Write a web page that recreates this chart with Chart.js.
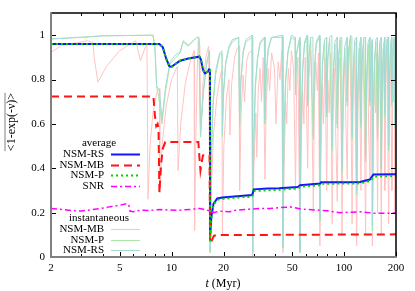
<!DOCTYPE html>
<html><head><meta charset="utf-8">
<script src="https://cdn.jsdelivr.net/npm/chart.js@4.4.0/dist/chart.umd.min.js"></script>
<style>html,body{margin:0;padding:0;background:#fff;}#wrap{width:415px;height:291px;}</style>
</head><body><div id="wrap"><canvas id="c" width="415" height="291"></canvas></div>
<script>
// ---- tick labels ----
const xTickLabels = [2, 5, 10, 20, 50, 100, 200];
const xMinorTicks = [3, 4, 6, 7, 8, 9, 30, 40, 60, 70, 80, 90];
const yTickLabels = [0, 0.2, 0.4, 0.6, 0.8, 1];

// ---- series: [t (Myr), value] ----
const mbInst = [[2,0.923],[2.3,0.953],[2.8,0.965],[3.26,0.975],[3.5,0.968],[3.56,0.90],[3.74,0.788],[4.2,0.86],[5.0,0.93],[6.0,0.968],
[6.2,0.975],[6.6,0.885],[7.0,0.94],[7.2,0.96],[7.3,0.26],[7.5,0.5],[7.8,0.65],[8.2,0.74],[8.5,0.76],[8.55,0.29],
[8.8,0.5],[9.3,0.68],[10,0.8],[10.8,0.86],[10.9,0.39],[11.3,0.6],[12,0.78],[12.8,0.88],[13.5,0.93],[13.6,0.12],
[13.8,0.5],[14.1,0.85],[14.3,0.99],[14.6,0.95],[14.75,0.55],[15.2,0.78],[15.8,0.9],[16.4,0.95],[16.7,0.02],[17.0,0.3],
[17.5,0.55],[18.3,0.72],[19.3,0.83],[19.6,0.84],[19.7,0.1],[20.1,0.5],[20.8,0.72],[21.5,0.8],[21.8,0.55],[22.3,0.78],
[23.2,0.9],[24,0.94],[24.6,0.95],[24.8,0.3],[25.3,0.65],[26,0.82],[26.5,0.7],[27.2,0.88],[28,0.92],[29.3,0.93],
[29.5,0.0],[30,0.4],[30.8,0.65],[31.2,0.45],[31.8,0.75],[32.6,0.85],[33.2,0.7],[34,0.9],[34.8,0.35],[35.4,0.7],
[36.3,0.85],[37,0.75],[38,0.92],[39.5,0.85],[40.3,0.6],[41.5,0.88],[42.5,0.8],[43.5,0.93],[44.2,0.02],[44.9,0.4],
[45.8,0.7],[46.5,0.6],[47.5,0.85],[48.5,0.75],[49.5,0.93],[51,0.85],[52.3,0.3],[53,0.75],[54,0.9],[55.5,0.02],
[56.3,0.45],[57.5,0.75],[58.5,0.6],[59.5,0.9],[60.5,0.7],[61.5,0.4],[62.5,0.8],[64,0.93],[65,0.7],[66.3,0.2],
[67.3,0.7],[68.5,0.88],[70,0.75],[71,0.92],[72.4,0.05],[73.3,0.4],[75,0.78],[76,0.6],[77.5,0.9],[79.3,0.3],
[80.5,0.8],[82,0.65],[83.5,0.92],[85.3,0.15],[86.5,0.7],[88,0.85],[89.5,0.55],[91.3,0.25],[92.8,0.8],[94.5,0.9],
[96,0.65],[97.3,0.1],[99,0.7],[101,0.88],[102.5,0.6],[104.3,0.35],[106,0.85],[108,0.95],[109.5,0.7],[111.3,0.15],
[113,0.75],[115,0.9],[116.5,0.55],[118.3,0.05],[120,0.6],[122,0.88],[123.5,0.7],[125.3,0.3],[127,0.8],[129,0.93],
[131,0.6],[133.3,0.1],[135,0.7],[137,0.9],[139,0.55],[141.3,0.35],[143.5,0.82],[145.5,0.9],[146,0.05],[147.5,0.5],
[150,0.85],[152,0.65],[154,0.92],[156.3,0.2],[158.5,0.75],[160.5,0.9],[162.5,0.6],[164.3,0.1],[166.5,0.7],[169,0.9],
[171,0.7],[172.3,0.3],[175,0.85],[177,0.95],[179,0.6],[181.3,0.15],[183.5,0.75],[186,0.9],[188,0.55],[189.3,0.3],
[192,0.85],[194,0.7],[195.5,0.93],[197.3,0.2],[200,0.75]];

const pInst = [[2,0.983],[4,0.997],[7.8,1.0],[8.0,0.95],[8.2,0.76],[8.4,0.73],[8.8,0.6],[9.2,0.74],[9.8,0.87],[11.2,0.92],
[11.7,0.97],[12.5,0.95],[14.0,0.99],[14.4,0.99],[14.7,0.54],[15.3,0.74],[16.0,0.87],[16.6,0.93],[16.75,0.02],[17.0,0.42],
[17.4,0.68],[18.0,0.82],[19.0,0.91],[19.6,0.92],[19.7,0.54],[20.0,0.73],[20.6,0.87],[21.5,0.94],[22.5,0.97],[24.5,0.99],
[24.8,0.58],[25.2,0.78],[26,0.92],[27,0.97],[29.3,0.99],[29.5,0.02],[29.9,0.48],[30.6,0.76],[31.5,0.89],[32.6,0.96],
[34.5,0.99],[34.8,0.6],[35.3,0.8],[36.3,0.93],[38,0.99],[43.8,0.99],[44.2,0.04],[44.8,0.53],[45.8,0.78],[47.3,0.92],
[49.5,0.99],[52,0.98],[52.3,0.73],[53,0.91],[55.2,0.98],[55.5,0.02],[56.2,0.53],[57.5,0.83],[59,0.96],[61,0.99],
[61.5,0.68],[62.5,0.89],[64,0.98],[66.3,0.53],[67.3,0.84],[69,0.96],[72,0.99],[72.4,0.16],[73.3,0.58],[75,0.87],
[77,0.97],[79.3,0.63],[80.5,0.89],[82.5,0.98],[85.3,0.48],[86.5,0.81],[88.5,0.96],[91.3,0.58],[92.8,0.89],[95,0.98],
[97.3,0.38],[99,0.79],[101,0.94],[104.3,0.68],[106,0.92],[109,0.99],[111.3,0.53],[113,0.84],[115.5,0.97],[118.3,0.28],
[120,0.74],[122.5,0.94],[125.3,0.58],[127,0.87],[130,0.98],[133.3,0.43],[135,0.79],[138,0.96],[141.3,0.68],[143.5,0.89],
[145.5,0.97],[146,0.12],[147.5,0.58],[150,0.87],[153,0.97],[156.3,0.53],[158.5,0.84],[161,0.96],[164.3,0.38],[166.5,0.77],
[169,0.94],[172.3,0.63],[175,0.89],[178,0.98],[181.3,0.48],[183.5,0.81],[186.5,0.96],[189.3,0.68],[192,0.92],[195,0.98],
[197.3,0.58],[200,0.89]];

const rsInst = [[2,0.983],[3,0.99],[4,0.997],[7.8,1.0],[8.0,0.95],[8.2,0.77],[8.5,0.75],[8.8,0.62],[9.2,0.76],[9.8,0.88],
[10.5,0.91],[11.2,0.925],[11.7,0.975],[12.5,0.955],[13.3,0.975],[14.0,0.99],[14.4,0.99],[14.7,0.56],[15.3,0.75],[16.0,0.88],
[16.6,0.93],[16.75,0.03],[17.0,0.45],[17.4,0.7],[18.0,0.84],[19.0,0.92],[19.6,0.93],[19.7,0.56],[20.0,0.75],[20.6,0.88],
[21.5,0.95],[22.5,0.98],[24.5,0.99],[24.8,0.6],[25.2,0.8],[26,0.93],[27,0.98],[29.3,1.0],[29.5,0.02],[29.9,0.5],
[30.6,0.78],[31.5,0.9],[32.6,0.97],[34.5,0.99],[34.8,0.62],[35.3,0.82],[36.3,0.94],[38,0.99],[43.8,1.0],[44.2,0.05],
[44.8,0.55],[45.8,0.8],[47.3,0.93],[49.5,1.0],[52,0.99],[52.3,0.75],[53,0.92],[55.2,0.99],[55.5,0.03],[56.2,0.55],
[57.5,0.85],[59,0.97],[61,1.0],[61.5,0.7],[62.5,0.9],[64,0.99],[66,0.99],[66.3,0.55],[67.3,0.85],[69,0.97],
[72,1.0],[72.4,0.18],[73.3,0.6],[75,0.88],[77,0.98],[79,0.99],[79.3,0.65],[80.5,0.9],[82.5,0.99],[85,1.0],
[85.3,0.5],[86.5,0.82],[88.5,0.97],[91,0.99],[91.3,0.6],[92.8,0.9],[95,0.99],[97,0.99],[97.3,0.4],[99,0.8],
[101,0.95],[104,0.99],[104.3,0.7],[106,0.93],[109,1.0],[111,0.99],[111.3,0.55],[113,0.85],[115.5,0.98],[118,0.99],
[118.3,0.3],[120,0.75],[122.5,0.95],[125,0.99],[125.3,0.6],[127,0.88],[130,0.99],[133,0.99],[133.3,0.45],[135,0.8],
[138,0.97],[141,0.99],[141.3,0.7],[143.5,0.9],[145.5,0.98],[146,0.14],[147.5,0.6],[150,0.88],[153,0.98],[156,0.99],
[156.3,0.55],[158.5,0.85],[161,0.97],[164,0.99],[164.3,0.4],[166.5,0.78],[169,0.95],[172,0.99],[172.3,0.65],[175,0.9],
[178,0.99],[181,0.99],[181.3,0.5],[183.5,0.82],[186.5,0.97],[189,0.99],[189.3,0.7],[192,0.93],[195,0.99],[197,0.99],
[197.3,0.6],[200,0.9]];

const rsAvg = [[2,0.96],[8.5,0.96],[8.9,0.945],[9.3,0.895],[9.7,0.86],[10.0,0.857],[10.6,0.872],[11.2,0.885],[12.5,0.895],[14.5,0.903],
[14.8,0.89],[15.2,0.845],[15.6,0.828],[16.2,0.835],[16.5,0.845],[16.7,0.84],[16.72,0.09],[17.0,0.18],[17.5,0.24],[18.4,0.264],
[19.7,0.268],[25,0.275],[29.3,0.279],[30.0,0.305],[36,0.309],[42,0.31],[54,0.316],[55.6,0.324],[72.8,0.331],[73.5,0.337],
[100,0.337],[124,0.338],[130,0.343],[141,0.349],[148,0.372],[200,0.373]];

const mbAvg = [[2,0.724],[7.85,0.724],[8.0,0.64],[8.15,0.59],[8.3,0.6],[8.4,0.58],[8.5,0.29],[8.7,0.42],[8.9,0.49],[9.2,0.518],
[14.3,0.518],[14.5,0.45],[14.7,0.39],[14.9,0.42],[15.2,0.458],[16.6,0.46],[16.72,0.062],[17.0,0.07],[17.6,0.095],[18.2,0.099],
[50,0.1],[200,0.102]];

const pAvg = [[2,0.96],[8.5,0.96],[8.9,0.945],[9.3,0.895],[9.7,0.86],[10.0,0.857],[10.6,0.872],[11.2,0.885],[12.5,0.895],[14.5,0.903],
[14.8,0.89],[15.2,0.845],[15.6,0.828],[16.2,0.835],[16.5,0.845],[16.7,0.84],[16.72,0.07],[17.0,0.17],[17.5,0.235],[18.4,0.258],
[19.7,0.262],[25,0.269],[29.3,0.272],[30.3,0.298],[42,0.303],[54,0.309],[56,0.317],[73,0.324],[74,0.33],[124,0.332],
[141,0.342],[150,0.363],[200,0.365]];

const snr = [[2,0.219],[2.3,0.214],[2.6,0.21],[3.0,0.207],[3.4,0.213],[3.9,0.219],[4.5,0.228],[5.0,0.233],[5.5,0.241],[5.65,0.235],
[5.74,0.207],[6.0,0.204],[6.6,0.211],[7.5,0.21],[8.6,0.214],[9.5,0.212],[11.2,0.211],[13,0.215],[14.6,0.219],[16.7,0.208],
[17.5,0.2],[19,0.207],[21.8,0.204],[23,0.21],[28,0.215],[32.6,0.219],[37,0.219],[42,0.222],[49,0.226],[52,0.222],
[56,0.216],[73,0.211],[80,0.208],[95,0.2],[110,0.202],[124,0.204],[150,0.197],[200,0.198]];

const toXY = a => a.map(p => ({x: p[0], y: p[1]}));
const FONT = "'Liberation Serif', 'Times New Roman', serif";

const series = [
  {label:'NSM-MB inst', data: mbInst, color:'rgb(255,195,195)', w:1, dash:[], order:7},
  {label:'NSM-P inst', data: pInst, color:'rgb(170,230,170)', w:1, dash:[], order:6},
  {label:'NSM-RS inst', data: rsInst, color:'rgb(165,218,212)', w:1, dash:[], order:5},
  {label:'NSM-RS', data: rsAvg, color:'rgb(20,20,255)', w:2, dash:[], order:4},
  {label:'NSM-MB', data: mbAvg, color:'rgb(255,20,20)', w:2, dash:[8,5], order:3},
  {label:'NSM-P', data: pAvg, color:'rgb(0,210,0)', w:2, dash:[2,3], order:2},
  {label:'SNR', data: snr, color:'rgb(255,0,255)', w:1.5, dash:[6,3,2,3], order:1}
];

const framePlugin = {
  id: 'frame',
  afterDatasetsDraw(chart) {
    const {ctx, chartArea: {left, right, top, bottom}, scales: {x, y}} = chart;
    ctx.save();
    ctx.strokeStyle = '#000';
    ctx.lineWidth = 1;
    ctx.beginPath();
    xTickLabels.forEach(t => { const px = Math.round(x.getPixelForValue(t)) + 0.5;
      ctx.moveTo(px, bottom); ctx.lineTo(px, bottom - 5); ctx.moveTo(px, top); ctx.lineTo(px, top + 5); });
    xMinorTicks.forEach(t => { const px = Math.round(x.getPixelForValue(t)) + 0.5;
      ctx.moveTo(px, bottom); ctx.lineTo(px, bottom - 3); ctx.moveTo(px, top); ctx.lineTo(px, top + 3); });
    yTickLabels.forEach(v => { const py = Math.round(y.getPixelForValue(v)) + 0.5;
      ctx.moveTo(left, py); ctx.lineTo(left + 5, py); ctx.moveTo(right, py); ctx.lineTo(right - 5, py); });
    ctx.stroke();
    ctx.lineWidth = 1.5;
    ctx.beginPath();
    ctx.moveTo(left, top); ctx.lineTo(right, top); ctx.lineTo(right, bottom);
    ctx.stroke();
    ctx.strokeStyle = '#808080';
    ctx.lineWidth = 2;
    ctx.beginPath();
    ctx.moveTo(left, top - 0.75); ctx.lineTo(left, bottom); ctx.lineTo(right + 0.75, bottom);
    ctx.stroke();

    // legend
    ctx.fillStyle = '#000';
    ctx.font = '11px ' + FONT;
    ctx.textBaseline = 'middle';
    ctx.textAlign = 'center';
    ctx.fillText('average', 99, 143);
    ctx.fillText('instantaneous', 99, 218);
    const rows = [
      ['NSM-RS', series[3], 154], ['NSM-MB', series[4], 165], ['NSM-P', series[5], 175], ['SNR', series[6], 186],
      ['NSM-MB', series[0], 229], ['NSM-P', series[1], 240], ['NSM-RS', series[2], 250]
    ];
    rows.forEach(([txt, s, yy]) => {
      ctx.textAlign = 'right';
      ctx.fillText(txt, 104, yy);
      ctx.save();
      ctx.strokeStyle = s.color; ctx.lineWidth = s.w; ctx.setLineDash(s.dash);
      ctx.beginPath(); ctx.moveTo(111, yy + 0.5); ctx.lineTo(140, yy + 0.5); ctx.stroke();
      ctx.restore();
    });

    // y axis title with overline
    ctx.save();
    ctx.translate(14.5, 122);
    ctx.rotate(-Math.PI / 2);
    ctx.textAlign = 'center';
    ctx.textBaseline = 'alphabetic';
    ctx.font = '12px ' + FONT;
    const yt = '<1-exp(-\u03BD)>';
    ctx.fillText(yt, 0, 0);
    const w = ctx.measureText(yt).width;
    ctx.lineWidth = 1;
    ctx.beginPath(); ctx.moveTo(-w / 2, -9.5); ctx.lineTo(w / 2, -9.5); ctx.stroke();
    ctx.restore();

    // x axis title
    ctx.font = 'italic 12px ' + FONT;
    const tW = ctx.measureText('t').width;
    ctx.font = '12px ' + FONT;
    const rW = ctx.measureText(' (Myr)').width;
    const x0 = 223 - (tW + rW) / 2;
    ctx.textAlign = 'left';
    ctx.textBaseline = 'alphabetic';
    ctx.font = 'italic 12px ' + FONT;
    ctx.fillText('t', x0, 287);
    ctx.font = '12px ' + FONT;
    ctx.fillText(' (Myr)', x0 + tW, 287);
    ctx.restore();
  }
};

new Chart(document.getElementById('c'), {
  type: 'line',
  data: {
    datasets: series.map(s => ({
      label: s.label, data: toXY(s.data), borderColor: s.color, borderWidth: s.w,
      borderDash: s.dash, pointRadius: 0, tension: 0, fill: false, order: s.order
    }))
  },
  options: {
    responsive: false, animation: false, devicePixelRatio: 1,
    layout: { padding: { left: 0, right: 19, top: 13, bottom: 0 } },
    plugins: { legend: { display: false }, tooltip: { enabled: false } },
    scales: {
      x: {
        type: 'logarithmic', min: 2, max: 200,
        afterBuildTicks: sc => { sc.ticks = xTickLabels.map(v => ({value: v})); },
        afterFit: sc => { sc.height = 34; },
        grid: { display: false, drawTicks: false }, border: { display: false },
        ticks: { autoSkip: false, maxRotation: 0, padding: 5, color: '#000',
          font: { family: FONT, size: 11 }, callback: v => String(v) }
      },
      y: {
        type: 'linear', min: 0, max: 1.1,
        afterBuildTicks: sc => { sc.ticks = yTickLabels.map(v => ({value: v})); },
        afterFit: sc => { sc.width = 51; },
        grid: { display: false, drawTicks: false }, border: { display: false },
        ticks: { padding: 6, color: '#000', font: { family: FONT, size: 11 },
          callback: v => (v === 0 ? '0' : v === 1 ? '1' : v.toFixed(1)) }
      }
    }
  },
  plugins: [framePlugin]
});
</script>
</body></html>
